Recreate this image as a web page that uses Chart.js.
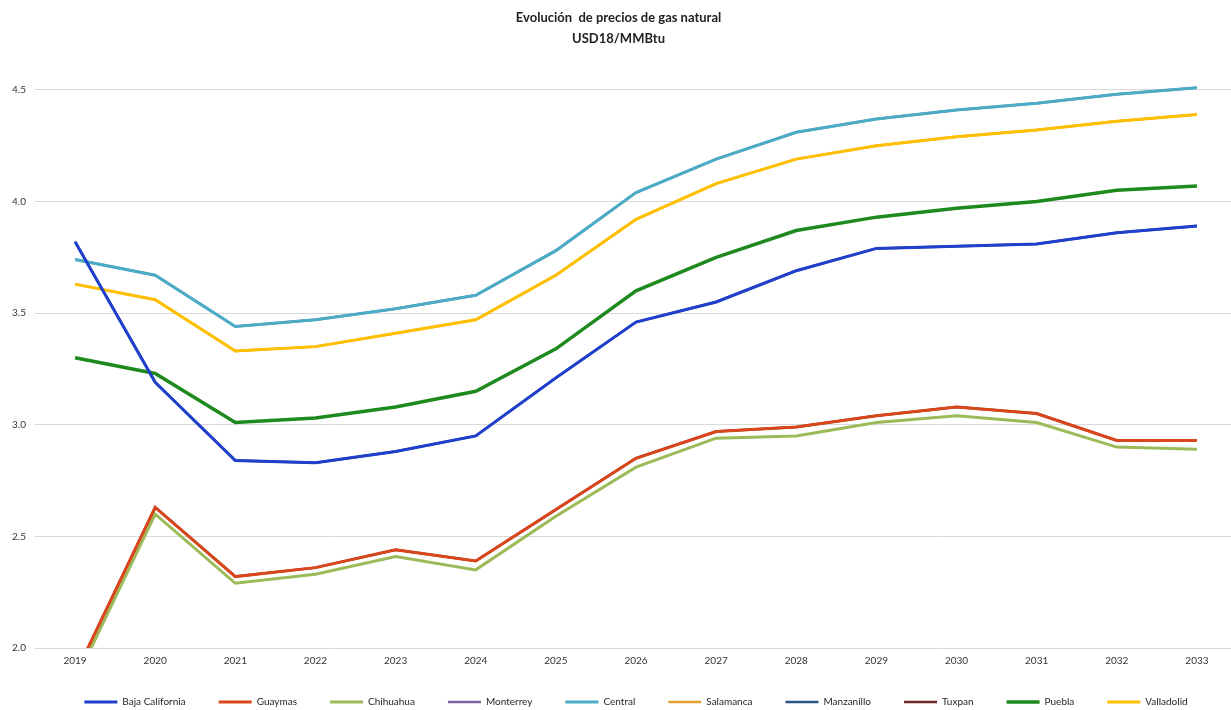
<!DOCTYPE html>
<html lang="es">
<head>
<meta charset="utf-8">
<title>Evolución de precios de gas natural</title>
<script src="https://cdn.jsdelivr.net/npm/chart.js@4.4.1/dist/chart.umd.min.js"></script>
<style>
  html, body { margin: 0; padding: 0; background: #ffffff; overflow: hidden; }
  #wrap { position: relative; width: 1245px; height: 710px; }
</style>
</head>
<body>
<div id="wrap"><canvas id="chart"></canvas></div>
<script>
// Years on the horizontal axis
const years = ['2019', '2020', '2021', '2022', '2023', '2024', '2025', '2026',
               '2027', '2028', '2029', '2030', '2031', '2032', '2033'];

// Natural gas prices by region, USD18/MMBtu
const bajaCalifornia = [3.82, 3.19, 2.84, 2.83, 2.88, 2.95, 3.21, 3.46, 3.55, 3.69, 3.79, 3.80, 3.81, 3.86, 3.89];
const guaymas        = [1.88, 2.63, 2.32, 2.36, 2.44, 2.39, 2.62, 2.85, 2.97, 2.99, 3.04, 3.08, 3.05, 2.93, 2.93];
const chihuahua      = [1.85, 2.60, 2.29, 2.33, 2.41, 2.35, 2.59, 2.81, 2.94, 2.95, 3.01, 3.04, 3.01, 2.90, 2.89];
const monterrey      = [3.74, 3.67, 3.44, 3.47, 3.52, 3.58, 3.78, 4.04, 4.19, 4.31, 4.37, 4.41, 4.44, 4.48, 4.51];
const central        = [3.74, 3.67, 3.44, 3.47, 3.52, 3.58, 3.78, 4.04, 4.19, 4.31, 4.37, 4.41, 4.44, 4.48, 4.51];
const salamanca      = [3.63, 3.56, 3.33, 3.35, 3.41, 3.47, 3.67, 3.92, 4.08, 4.19, 4.25, 4.29, 4.32, 4.36, 4.39];
const manzanillo     = [3.82, 3.19, 2.84, 2.83, 2.88, 2.95, 3.21, 3.46, 3.55, 3.69, 3.79, 3.80, 3.81, 3.86, 3.89];
const tuxpan         = [1.88, 2.63, 2.32, 2.36, 2.44, 2.39, 2.62, 2.85, 2.97, 2.99, 3.04, 3.08, 3.05, 2.93, 2.93];
const puebla         = [3.30, 3.23, 3.01, 3.03, 3.08, 3.15, 3.34, 3.60, 3.75, 3.87, 3.93, 3.97, 4.00, 4.05, 4.07];
const valladolid     = [3.63, 3.56, 3.33, 3.35, 3.41, 3.47, 3.67, 3.92, 4.08, 4.19, 4.25, 4.29, 4.32, 4.36, 4.39];

// Value-axis ticks
const yTicks = [2.0, 2.5, 3.0, 3.5, 4.0, 4.5];

const FONT = 'Lato, "Open Sans", "DejaVu Sans", sans-serif';

function series(label, data, color, width, layer) {
  return {
    label,
    data,
    borderColor: color,
    backgroundColor: color,
    borderWidth: width,
    pointRadius: 0,
    pointHoverRadius: 0,
    tension: 0,
    fill: false,
    order: layer,
    // lines may run slightly past the top of the plot, but stop at the 2.0 floor
    clip: { left: 6, top: 6, right: 6, bottom: 0 }
  };
}

const datasets = [
  series('Baja California', bajaCalifornia, '#1f3fcc', 3, 0),
  series('Guaymas',         guaymas,        '#d9461c', 3, 0),
  series('Chihuahua',       chihuahua,      '#9bbb59', 3, 0),
  series('Monterrey',       monterrey,      '#8064a2', 2.5, 1),
  series('Central',         central,        '#4bacc6', 3, 0),
  series('Salamanca',       salamanca,      '#e5a030', 2.5, 1),
  series('Manzanillo',      manzanillo,     '#2f5582', 2.5, 1),
  series('Tuxpan',          tuxpan,         '#6e2a26', 2.5, 1),
  series('Puebla',          puebla,         '#1e8a1e', 3.5, 0),
  series('Valladolid',      valladolid,     '#ffc000', 3, 0)
];

new Chart(document.getElementById('chart'), {
  type: 'line',
  data: { labels: years, datasets },
  options: {
    responsive: true,
    maintainAspectRatio: false,
    animation: false,
    events: [],
    layout: { padding: { left: 0, right: 8, top: 0, bottom: -7 } },
    scales: {
      x: {
        type: 'category',
        offset: true,
        afterFit(scale) { scale.height = 16; },
        grid: { display: false, drawTicks: false },
        border: { display: false },
        ticks: {
          color: '#333333',
          font: { family: FONT, size: 10 },
          padding: 7,
          maxRotation: 0,
          autoSkip: false
        }
      },
      y: {
        min: 2.0,
        max: 4.5,
        afterBuildTicks(scale) {
          scale.ticks = yTicks.map(v => ({ value: v }));
        },
        afterFit(scale) { scale.width = 35; },
        grid: { color: '#d9d9d9', lineWidth: 1, drawTicks: false },
        border: { display: false },
        ticks: {
          color: '#333333',
          font: { family: FONT, size: 10 },
          padding: 9,
          callback: v => Number(v).toFixed(1)
        }
      }
    },
    plugins: {
      title: {
        display: true,
        text: ['Evolución  de precios de gas natural', 'USD18/MMBtu'],
        color: '#222222',
        font: { family: FONT, size: 13, weight: 'bold', lineHeight: 1.65 },
        padding: { top: 7, bottom: 40 }
      },
      legend: {
        display: true,
        position: 'bottom',
        fullSize: false,
        labels: {
          usePointStyle: true,
          pointStyle: 'line',
          pointStyleWidth: 33,
          color: '#262626',
          font: { family: FONT, size: 10 },
          padding: 33,
          sort: (a, b) => a.datasetIndex - b.datasetIndex
        }
      },
      tooltip: { enabled: false }
    }
  }
});
</script>
</body>
</html>
